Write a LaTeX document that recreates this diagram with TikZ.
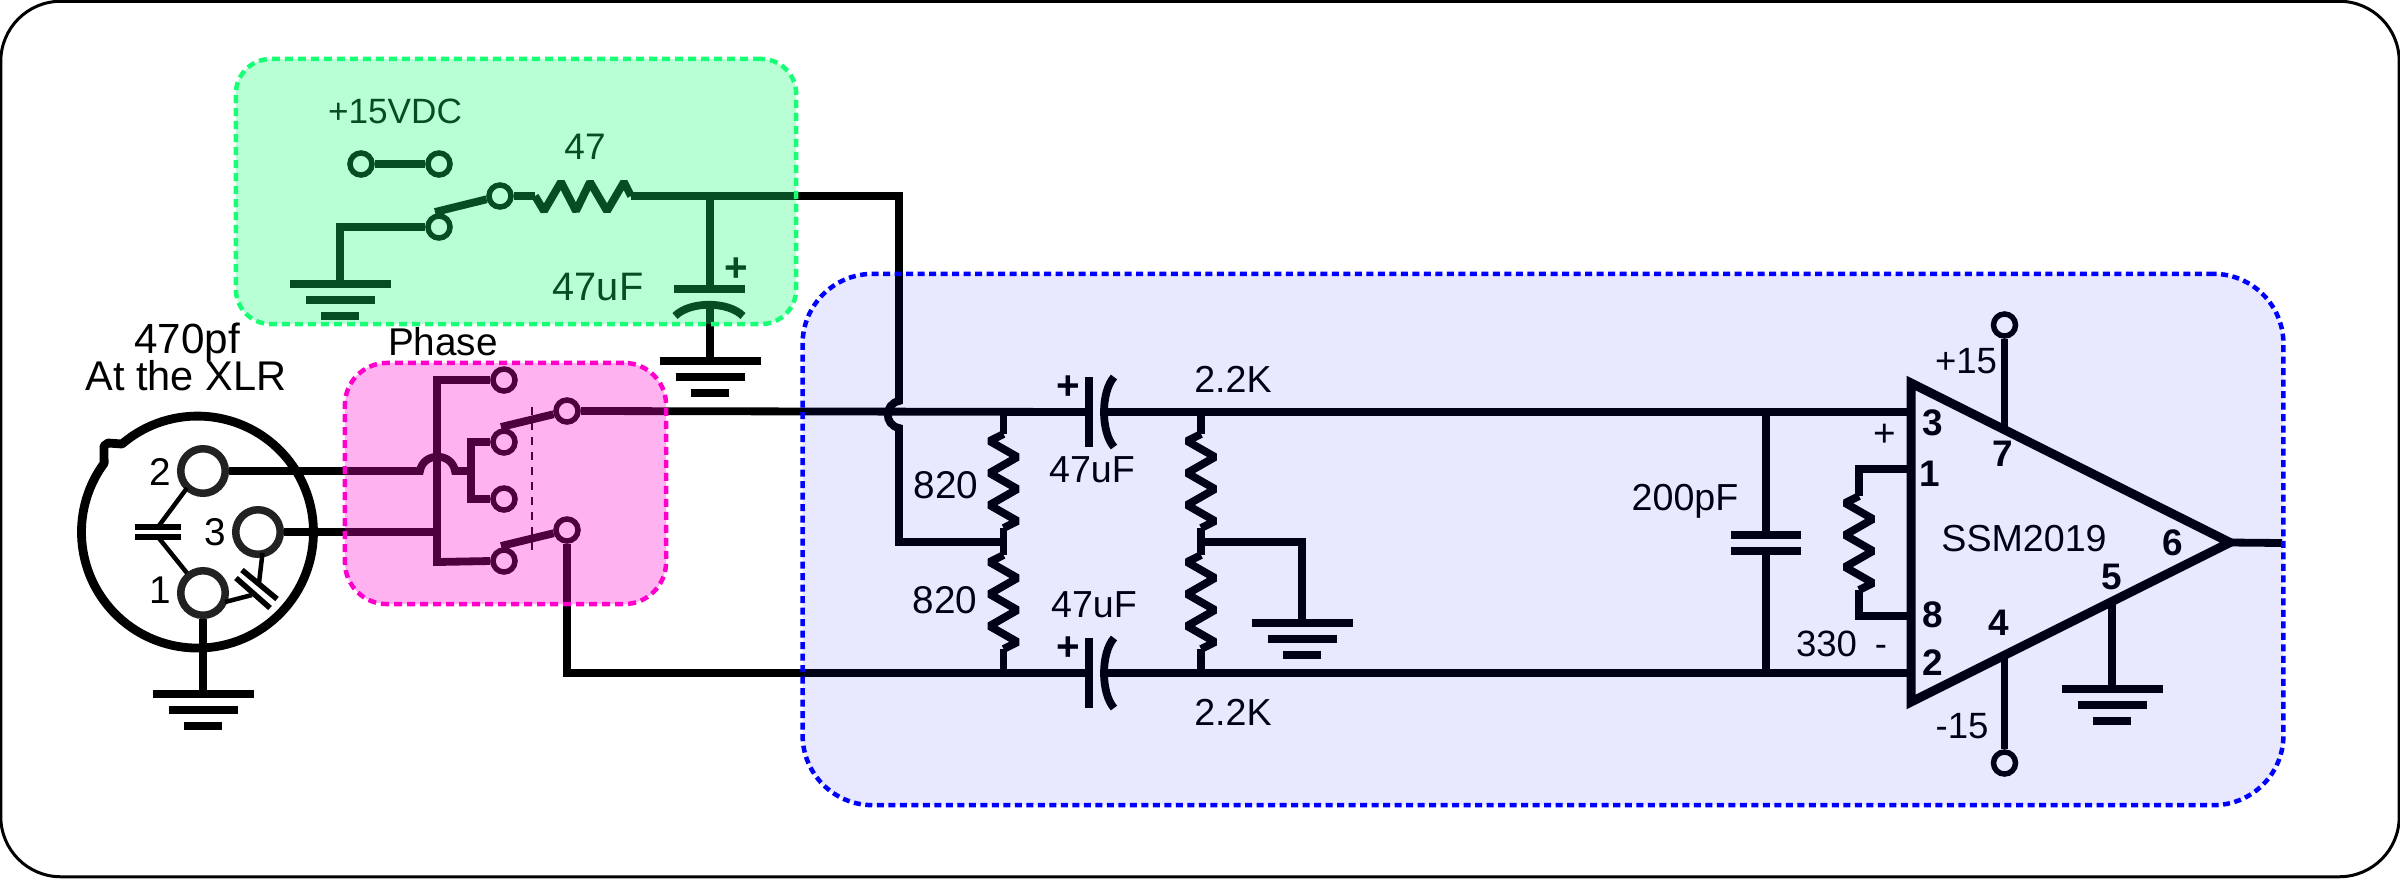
\documentclass[tikz,border=0pt]{standalone}
\usepackage{fontspec}
\setmainfont{Liberation Sans}
\definecolor{zonegreen}{RGB}{24,255,118}
\definecolor{zonepink}{RGB}{255,0,204}
\definecolor{zoneblue}{RGB}{0,0,255}
\definecolor{pingray}{RGB}{34,34,34}
\tikzset{
  wire/.style={line width=0.078cm},
  thinwire/.style={line width=0.045cm},
  plate/.style={line width=0.085cm},
  term/.style={circle, draw, line width=0.055cm, minimum size=0.22cm, inner sep=0},
  xlrpin/.style={circle, draw=pingray, line width=0.075cm, minimum size=0.445cm, inner sep=0},
  lbl/.style={inner sep=0, anchor=base, font=\fontsize{10.7}{12}\selectfont},
  lblbig/.style={lbl, font=\fontsize{11}{12}\selectfont},
  lblsmall/.style={lbl, font=\fontsize{10}{12}\selectfont},
  pinno/.style={lbl, font=\fontsize{10.5}{12}\selectfont\bfseries},
  polarity/.style={lbl, font=\fontsize{11.5}{12}\selectfont\bfseries},
  zone/.style={rectangle, rounded corners=#1, line width=0.045cm, dash pattern=on 0.08cm off 0.05cm, inner sep=0},
  pics/gndsym/.style={code={
    \draw[plate] (-50.5,0) -- (50.5,0);
    \draw[plate] (-34.5,16) -- (34.5,16);
    \draw[plate] (-19,32) -- (19,32);
  }},
  pics/resv/.style={code={
    \coordinate (-a) at (0,0);
    \coordinate (-b) at (0,94);
    \draw[wire, line join=bevel] (0,0) -- (-14,7) -- (14,23) -- (-14,39) -- (14,55) -- (-14,71) -- (14,87) -- (0,94);
  }},
  pics/resh/.style={code={
    \coordinate (-a) at (0,0);
    \coordinate (-b) at (96,0);
    \draw[wire, line join=bevel] (0,0) -- (9,15) -- (26,-14) -- (41,15) -- (55,-14) -- (72,15) -- (89,-14) -- (96,0);
  }},
  pics/capel/.style={code={
    \coordinate (-a) at (0,0);
    \coordinate (-b) at (15,0);
    \draw[plate] (0,-35) -- (0,35);
    \draw[wire] (25,-35) .. controls (11.7,-20) and (11.7,20) .. (25,35);
  }},
}
\begin{document}
\begin{tikzpicture}[x=0.01cm, y=-0.01cm]
  \useasboundingbox (0,0) rectangle (2400,878);
  \node[zone=0.6cm, draw, solid, line width=0.03cm, minimum width=23.97cm, minimum height=8.75cm] (frame) at (1200,439) {};

  % XLR connector
  \draw[line width=0.088cm, line join=round] (122,444) arc[start angle=229.4, delta angle=347, radius=116] -- (104,446) -- (108,443) -- cycle;
  \node[xlrpin] (pintwo) at (203,471) {};
  \node[xlrpin] (pinthree) at (258,532) {};
  \node[xlrpin] (pinone) at (203,593) {};
  \node[lbl, font=\fontsize{11}{12}\selectfont] (lbltwo) at (160,485) {2};
  \node[lbl, font=\fontsize{11}{12}\selectfont] (lblthree) at (215,545) {3};
  \node[lbl, font=\fontsize{11}{12}\selectfont] (lblone) at (160,603) {1};
  \node[lbl, font=\fontsize{12}{12}\selectfont] (lblfourseventy) at (187,353) {470pf};
  \node[lbl, font=\fontsize{11.8}{12}\selectfont] (lblxlr) at (186,390) {At the XLR};
  \coordinate (xa) at (158,527);
  \coordinate (xb) at (158,537);
  \draw[thinwire] (pintwo) ++(-16,17) -- (xa);
  \draw[line width=0.055cm] (135,527) -- (181,527);
  \draw[line width=0.055cm] (135,537) -- (181,537);
  \draw[thinwire] (xb) -- (187,573);
  \draw[thinwire] (262.5,553) -- (259,583);
  \draw[line width=0.055cm] (242,570) -- (277,599);
  \draw[line width=0.055cm] (236,578) -- (270,608);
  \draw[thinwire] (252,595) -- (225,602);
  \coordinate (gndxlr) at (203,694);
  \draw[wire] (pinone.south) -- (gndxlr);
  \pic at (gndxlr) {gndsym};

  % phase switch
  \node[lblbig] (lblphase) at (443,355) {Phase};
  \node[term] (phtop) at (504,380) {};
  \node[term] (phmida) at (504,442) {};
  \node[term] (phmidb) at (504,499) {};
  \node[term] (phlow) at (504,561) {};
  \node[term] (phouta) at (567,411) {};
  \node[term] (phoutb) at (567,530) {};
  \coordinate (arma) at (501,427);
  \coordinate (armb) at (501,546);
  \coordinate (jumpa) at (420,471);
  \coordinate (jumpb) at (455,471);
  \coordinate (tee) at (471,471);
  \draw[wire] (phtop.west) -- (437,380) -- (437,562) -- (phlow.west);
  \draw[wire] (pinthree.east) -- (437,532);
  \draw[wire] (pintwo.east) -- (jumpa) .. controls (423,452) and (452,452) .. (jumpb) -- (tee);
  \draw[wire] (phmida.west) -| (tee);
  \draw[wire] (phmidb.west) -| (tee);
  \draw[wire] (arma) -- (phouta);
  \draw[wire] (armb) -- (phoutb);
  \draw[line width=0.015cm, dash pattern=on 0.08cm off 0.07cm] (532,407) -- (532,557);

  % power feed
  \node[lblsmall] (lblvdc) at (395,123) {+15VDC};
  \node[term] (jmpa) at (361,164) {};
  \node[term] (jmpb) at (439,164) {};
  \draw[wire] (jmpa) -- (jmpb);
  \node[term] (swa) at (500,196) {};
  \node[term] (swb) at (439,227) {};
  \coordinate (armc) at (435,212);
  \coordinate (gndsw) at (340,284);
  \draw[wire] (armc) -- (swa);
  \draw[wire] (swb.west) -| (gndsw);
  \pic at (gndsw) {gndsym};
  \pic (rfeed) at (535,196) {resh};
  \draw[wire] (swa.east) -- (rfeed-a);
  \node[lbl, font=\fontsize{10.5}{12}\selectfont] (lblfortyseven) at (585,159) {47};
  \coordinate (feedcap) at (710,196);
  \coordinate (feedturn) at (899,196);
  \coordinate (gndcap) at (710,361);
  \draw[wire] (rfeed-b) -- (feedturn) -- (899,401) .. controls (884,404) and (884,425) .. (899,428) -- (899,542) -- (1003.5,542);
  \draw[wire] (feedcap) -- (710,289);
  \draw[plate] (674,289) -- (745,289);
  \draw[wire] (675,316) .. controls (690,301) and (728,301) .. (743,316);
  \draw[wire] (710,304) -- (gndcap);
  \pic at (gndcap) {gndsym};
  \node[lbl, font=\fontsize{11.3}{12}\selectfont] (lblcapfeed) at (598,300) {47uF};
  \node[polarity] (lblplusfeed) at (736,281) {+};

  % signal rails
  \coordinate (amptop) at (1911,412);
  \coordinate (ampbot) at (1911,673);
  \coordinate (railbot) at (567,673);
  \pic (capa) at (1089,412) {capel};
  \pic (capb) at (1089,673) {capel};
  \draw[wire] (phouta.east) -- (capa-a);
  \draw[wire] (capa-b) -- (amptop);
  \draw[wire] (phoutb.south) -- (railbot) -- (capb-a);
  \draw[wire] (capb-b) -- (ampbot);
  \node[polarity] (lblplusa) at (1068,399) {+};
  \node[polarity] (lblplusb) at (1068,660) {+};
  \node[lbl] (lblcapa) at (1092,482) {47uF};
  \node[lbl] (lblcapb) at (1094,617) {47uF};
  \node[lbl] (lblkay) at (1233,392) {2.2K};
  \node[lbl] (lblkayb) at (1233,725) {2.2K};

  % dividers
  \pic (ra) at (1003.5,434) {resv};
  \pic (rb) at (1003.5,555) {resv};
  \draw[wire] (1003.5,412) -- (ra-a);
  \draw[wire] (ra-b) -- (rb-a);
  \draw[wire] (rb-b) -- (1003.5,673);
  \node[lbl, font=\fontsize{11}{12}\selectfont] (lblra) at (946,498) {820};
  \node[lbl, font=\fontsize{11}{12}\selectfont] (lblrb) at (945,613) {820};
  \pic (rc) at (1201,434) {resv};
  \pic (rd) at (1201,555) {resv};
  \draw[wire] (1201,412) -- (rc-a);
  \draw[wire] (rc-b) -- (rd-a);
  \draw[wire] (rd-b) -- (1201,673);
  \coordinate (gndmid) at (1302,623);
  \draw[wire] (1201,542) -| (gndmid);
  \pic at (gndmid) {gndsym};

  % input cap
  \draw[wire] (1766,412) -- (1766,535);
  \draw[plate] (1731,535) -- (1801,535);
  \draw[plate] (1731,551) -- (1801,551);
  \draw[wire] (1766,551) -- (1766,673);
  \node[lbl] (lblcapin) at (1685,510) {200pF};

  % gain resistor
  \pic (rgain) at (1859,496) {resv};
  \coordinate (gaina) at (1859,469);
  \coordinate (gainb) at (1859,616);
  \draw[wire] (1911,469) -- (gaina) -- (rgain-a);
  \draw[wire] (1911,616) -- (gainb) -- (rgain-b);
  \node[lbl, font=\fontsize{10.4}{12}\selectfont] (lblgain) at (1826.5,656) {330};
  \node[lbl, font=\fontsize{10.4}{12}\selectfont] (lblminus) at (1881,656) {-};
  \node[lbl, font=\fontsize{11}{12}\selectfont] (lblplus) at (1885,446) {+};

  % op amp
  \draw[line width=0.09cm] (1911,383) coordinate (ampa) -- (2230,542.5) coordinate (amptip) -- (1911,702) coordinate (ampc) -- cycle;
  \node[lbl] (lblamp) at (2024,551) {SSM2019};
  \node[term] (vplus) at (2004.5,325) {};
  \node[term] (vminus) at (2004.5,763) {};
  \coordinate (pinseven) at (2004.5,430);
  \coordinate (pinfour) at (2004.5,655);
  \coordinate (pinfive) at (2112,601);
  \coordinate (gndamp) at (2112,689);
  \coordinate (ampout) at (2282,543);
  \draw[wire] (vplus.south) -- (pinseven);
  \draw[wire] (vminus.north) -- (pinfour);
  \draw[wire] (pinfive) -- (gndamp);
  \pic at (gndamp) {gndsym};
  \draw[wire] (amptip) -- (ampout);
  \node[lbl, font=\fontsize{10.4}{12}\selectfont] (lblplusfifteen) at (1966,373) {+15};
  \node[lbl, font=\fontsize{10.4}{12}\selectfont] (lblminusfifteen) at (1962,738) {-15};
  \node[pinno] (nthree) at (1932.5,435) {3};
  \node[pinno] (none) at (1930,486) {1};
  \node[pinno] (neight) at (1932.5,627) {8};
  \node[pinno] (ntwo) at (1932.5,675) {2};
  \node[pinno] (nseven) at (2003,466) {7};
  \node[pinno] (nfour) at (1999,635) {4};
  \node[pinno] (nfive) at (2112,589) {5};
  \node[pinno] (nsix) at (2173,555) {6};

  % tinted zones on top
  \node[zone=0.35cm, draw=zonegreen, fill=zonegreen, fill opacity=0.3, minimum width=5.6cm, minimum height=2.65cm] (zonepower) at (516,191.5) {};
  \node[zone=0.42cm, draw=zonepink, fill=zonepink, fill opacity=0.3, minimum width=3.21cm, minimum height=2.41cm] (zonephase) at (505.5,483.5) {};
  \node[zone=0.7cm, draw=zoneblue, fill=zoneblue, fill opacity=0.09, dash pattern=on 0.07cm off 0.045cm, minimum width=14.8cm, minimum height=5.31cm] (zonesignal) at (1543,539.5) {};
\end{tikzpicture}
\end{document}
